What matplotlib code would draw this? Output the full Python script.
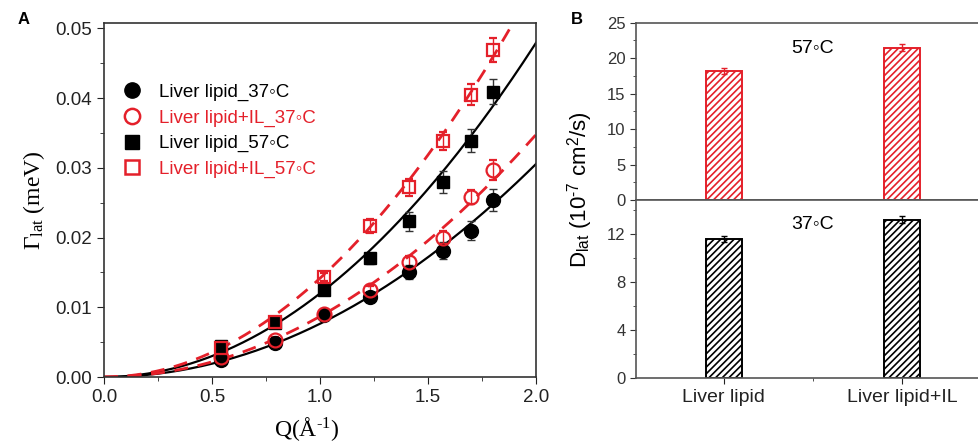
import numpy as np
import matplotlib
matplotlib.use("Agg")
import matplotlib.pyplot as plt
from matplotlib.ticker import MultipleLocator, FormatStrFormatter
from matplotlib.lines import Line2D

plt.rcParams['font.family'] = ['Liberation Sans', 'DejaVu Sans']
plt.rcParams['hatch.linewidth'] = 1.2
plt.rcParams['mathtext.fontset'] = 'custom'
plt.rcParams['mathtext.rm'] = 'Liberation Serif'
plt.rcParams['mathtext.it'] = 'Liberation Serif:italic'
plt.rcParams['mathtext.sf'] = 'Liberation Sans'

RED = '#e4202a'
DEG = '\u25e6'

# Panel A data: relaxation width vs Q
q = [0.54, 0.79, 1.02, 1.23, 1.41, 1.57, 1.70, 1.80]
ll_37 = [0.0024, 0.0049, 0.0089, 0.0115, 0.0151, 0.0181, 0.0210, 0.0254]
ll_37_err = [0.0003, 0.0004, 0.0005, 0.0006, 0.0010, 0.0012, 0.0013, 0.0016]
il_37 = [0.0028, 0.0053, 0.0091, 0.0125, 0.0165, 0.0200, 0.0258, 0.0297]
il_37_err = [0.0003, 0.0004, 0.0005, 0.0006, 0.0008, 0.0009, 0.0010, 0.0014]
ll_57 = [0.0045, 0.0078, 0.0125, 0.0170, 0.0223, 0.0280, 0.0339, 0.0409]
ll_57_err = [0.0004, 0.0005, 0.0006, 0.0008, 0.0014, 0.0016, 0.0016, 0.0018]
il_57 = [0.0041, 0.0079, 0.0143, 0.0216, 0.0272, 0.0339, 0.0405, 0.0469]
il_57_err = [0.0004, 0.0005, 0.0006, 0.0010, 0.0012, 0.0013, 0.0015, 0.0017]

# Panel B data: lateral diffusion coefficients (1e-7 cm^2/s)
samples = ['Liver lipid', 'Liver lipid+IL']
d_57 = [18.2, 21.5]
d_57_err = [0.4, 0.5]
d_37 = [11.6, 13.2]
d_37_err = [0.25, 0.3]

# Fickian fit: Gamma = hbar * D * Q^2 (hbar in meV s, D in 1e-7 cm^2/s, Q in 1/A)
HBAR = 6.582e-13 * 1e9


def fick(d, qq):
    return HBAR * d * qq ** 2


fig = plt.figure(figsize=(9.79, 4.47), dpi=100)

# ---------- Panel A ----------
ax = fig.add_axes([104 / 979, 70 / 447, 432 / 979, 354.3 / 447])
qq = np.linspace(0, 2.0, 200)
ax.plot(qq, fick(d_37[0], qq), color='black', lw=1.6)
ax.plot(qq, fick(d_57[0], qq), color='black', lw=1.6)
ax.plot(qq, fick(d_37[1], qq), color=RED, lw=2.0, ls=(0, (5, 3.5)))
ax.plot(qq, fick(d_57[1], qq), color=RED, lw=2.0, ls=(0, (5, 3.5)))

ax.errorbar(q, ll_37, yerr=ll_37_err, fmt='o', ms=10, color='black',
            ecolor='#333333', elinewidth=1, capsize=3)
ax.errorbar(q, il_37, yerr=il_37_err, fmt='o', ms=10, mfc='none', mec=RED, mew=1.6,
            ecolor=RED, elinewidth=1, capsize=3)
ax.errorbar(q, ll_57, yerr=ll_57_err, fmt='s', ms=9, color='black',
            ecolor='#333333', elinewidth=1, capsize=3)
ax.errorbar(q, il_57, yerr=il_57_err, fmt='s', ms=9, mfc='none', mec=RED, mew=1.6,
            ecolor=RED, elinewidth=1, capsize=3)

ax.set_xlim(0, 2.0)
ax.set_ylim(0, 0.0508)
ax.xaxis.set_major_locator(MultipleLocator(0.5))
ax.xaxis.set_minor_locator(MultipleLocator(0.25))
ax.yaxis.set_major_locator(MultipleLocator(0.01))
ax.yaxis.set_minor_locator(MultipleLocator(0.005))
ax.xaxis.set_major_formatter(FormatStrFormatter('%.1f'))
ax.yaxis.set_major_formatter(FormatStrFormatter('%.2f'))
ax.tick_params(which='major', direction='out', length=5, labelsize=13.5, colors='#222222')
ax.tick_params(which='minor', direction='out', length=3, colors='#222222')
for s in ax.spines.values():
    s.set_color('#333333')
    s.set_linewidth(1.2)
ax.set_xlabel('Q(\u00c5$^{\\rm \u20101}$)', family='Liberation Serif', fontsize=17)
ax.xaxis.set_label_coords(0.47, -0.108)
ax.set_ylabel('$\\Gamma_{\\rm lat}$ (meV)', family='Liberation Serif', fontsize=17, labelpad=6)

handles = [
    Line2D([], [], ls='none', marker='o', ms=11, color='black'),
    Line2D([], [], ls='none', marker='o', ms=11, mfc='none', mec=RED, mew=1.8),
    Line2D([], [], ls='none', marker='s', ms=10, color='black'),
    Line2D([], [], ls='none', marker='s', ms=10, mfc='none', mec=RED, mew=1.8),
]
labels = ['Liver lipid_37' + DEG + 'C', 'Liver lipid+IL_37' + DEG + 'C',
          'Liver lipid_57' + DEG + 'C', 'Liver lipid+IL_57' + DEG + 'C']
leg = ax.legend(handles, labels, loc='upper left', bbox_to_anchor=(0.044, 0.828),
                frameon=False, fontsize=13.5, handlelength=1.0, handletextpad=0.9,
                borderpad=0, borderaxespad=0, labelspacing=0.45, numpoints=1)
for t, c in zip(leg.get_texts(), ['black', RED, 'black', RED]):
    t.set_color(c)
fig.text(18 / 979, 1 - 20 / 447, 'A', fontsize=12, fontweight='bold', va='center')

# ---------- Panel B ----------
x = np.arange(1, len(samples) + 1)
left_b = 636 / 979
top_ax = fig.add_axes([left_b, (447 - 200) / 447, 1 - left_b, 177.3 / 447])
bot_ax = fig.add_axes([left_b, (447 - 378) / 447, 1 - left_b, 178 / 447])

top_ax.bar(x, d_57, width=0.2, color='white', edgecolor=RED, hatch='/////', lw=1.4)
top_ax.errorbar(x, d_57, yerr=d_57_err, fmt='none', ecolor=RED, elinewidth=1, capsize=2)
bot_ax.bar(x, d_37, width=0.2, color='white', edgecolor='black', hatch='/////', lw=1.4)
bot_ax.errorbar(x, d_37, yerr=d_37_err, fmt='none', ecolor='black', elinewidth=1, capsize=2)

for a in (top_ax, bot_ax):
    a.set_xlim(0.506, 2.433)
    a.set_xticks(x)
    a.xaxis.set_minor_locator(MultipleLocator(0.5))
    a.spines['right'].set_visible(False)
    for s in a.spines.values():
        s.set_color('#555555')
        s.set_linewidth(1.2)
    a.tick_params(which='major', direction='out', length=4, labelsize=12, colors='#333333')
    a.tick_params(which='minor', direction='out', length=2, colors='#333333')

top_ax.set_ylim(0, 25)
top_ax.yaxis.set_major_locator(MultipleLocator(5))
top_ax.yaxis.set_minor_locator(MultipleLocator(2.5))
top_ax.tick_params(axis='x', labelbottom=False)
bot_ax.set_ylim(0, 14.83)
bot_ax.yaxis.set_major_locator(MultipleLocator(4))
bot_ax.yaxis.set_minor_locator(MultipleLocator(2))
bot_ax.set_xticklabels(samples, fontsize=14)
bot_ax.tick_params(axis='x', labelsize=14, colors='#222222', pad=4)

top_ax.text(1.5, 21.4, '57' + DEG + 'C', ha='center', va='center', fontsize=14)
bot_ax.text(1.5, 12.8, '37' + DEG + 'C', ha='center', va='center', fontsize=14)

fig.text(580 / 979, 1 - 190 / 447, 'D$_{\\mathsf{lat}}$ (10$^{\\mathsf{\u20107}}$ cm$^{\\mathsf{2}}$/s)',
         rotation=90, ha='center', va='center', fontsize=16)
fig.text(571 / 979, 1 - 20 / 447, 'B', fontsize=12, fontweight='bold', va='center')

fig.savefig('out.png', dpi=100)
